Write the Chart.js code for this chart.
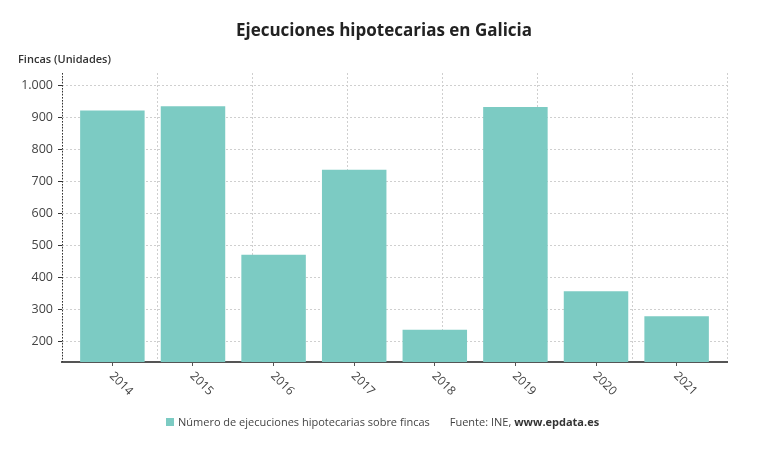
<!DOCTYPE html>
<html lang="es">
<head>
<meta charset="utf-8">
<title>Ejecuciones hipotecarias en Galicia</title>
<script src="https://cdn.jsdelivr.net/npm/chart.js@4.4.1/dist/chart.umd.min.js"></script>
<style>
  html, body { margin: 0; padding: 0; background: #fff; }
  body { width: 768px; height: 451px; position: relative; overflow: hidden; font-family: 'Open Sans', sans-serif; }
  #chart-wrap { position: absolute; left: 0; top: 0; width: 768px; height: 451px; }
  .title { position: absolute; left: 0; width: 768px; top: 18px; text-align: center; font-size: 17px; font-weight: 700; color: #222; }
  .ylab { position: absolute; left: 18px; top: 51px; font-size: 11px; font-weight: 600; color: #333; }
  .legend { position: absolute; left: 166px; top: 414px; font-size: 11px; color: #444; white-space: nowrap; }
  .legend .box { display: inline-block; width: 8px; height: 8px; background: #7ccbc3; margin-right: 4px; vertical-align: 0px; }
  .legend .src { margin-left: 20px; }
  .legend b { font-weight: 700; color: #333; }
</style>
</head>
<body>
<div id="chart-wrap"><canvas id="chart-fincas" width="768" height="451"></canvas></div>
<div class="title">Ejecuciones hipotecarias en Galicia</div>
<div class="ylab">Fincas (Unidades)</div>
<div class="legend"><span class="box"></span>Número de ejecuciones hipotecarias sobre fincas<span class="src">Fuente: INE, <b>www.epdata.es</b></span></div>
<script>
'use strict';

var years = ['2014', '2015', '2016', '2017', '2018', '2019', '2020', '2021'];
var fincas = [923, 936, 472, 738, 238, 934, 358, 280];
var yTicks = [200, 300, 400, 500, 600, 700, 800, 900, 1000];
var vGrid = [0, 1, 2, 3, 4, 5, 6, 7];

var BAR_COLOR = '#7ccbc3';
var GRID_COLOR = '#cfcfcf';

function fmtMiles(v) {
    return String(v).replace(/\B(?=(\d{3})+(?!\d))/g, '.');
}

// rotated year labels (clockwise), plus dotted y axis line
var extras = {
    id: 'extras',
    afterDraw: function(chart) {
        var ctx = chart.ctx;
        var xs = chart.scales.x;
        var area = chart.chartArea;

        ctx.save();
        ctx.strokeStyle = '#333';
        ctx.lineWidth = 1;
        ctx.setLineDash([1.5, 1.5]);
        ctx.beginPath();
        ctx.moveTo(area.left + 0.5, area.top);
        ctx.lineTo(area.left + 0.5, area.bottom);
        ctx.stroke();
        ctx.restore();

        ctx.save();
        ctx.fillStyle = '#444';
        ctx.font = '12px "Open Sans", sans-serif';
        ctx.textAlign = 'left';
        ctx.textBaseline = 'middle';
        years.forEach(function(y, i) {
            var px = xs.getPixelForValue(i);
            ctx.save();
            ctx.translate(px - 1, area.bottom + 12);
            ctx.rotate(Math.PI / 4);
            ctx.fillText(y, 0, 0);
            ctx.restore();
        });
        ctx.restore();
    }
};

var canvas = document.getElementById('chart-fincas');
new Chart(canvas, {
    type: 'bar',
    data: {
        datasets: [{
            label: 'Número de ejecuciones hipotecarias sobre fincas',
            data: fincas.map(function(v, i) { return { x: i, y: v }; }),
            backgroundColor: BAR_COLOR,
            borderWidth: 0,
            categoryPercentage: 1,
            barPercentage: 0.8,
            xAxisID: 'x',
            yAxisID: 'y'
        }]
    },
    options: {
        responsive: false,
        animation: false,
        devicePixelRatio: 1,
        layout: { padding: { top: 73, left: 0, right: 41, bottom: 49 } },
        plugins: {
            legend: { display: false },
            title: { display: false },
            tooltip: { enabled: false }
        },
        scales: {
            x: {
                type: 'linear',
                position: 'bottom',
                min: -0.625,
                max: 7.625,
                offset: false,
                ticks: { display: false },
                afterBuildTicks: function(s) {
                    s.ticks = years.map(function(y, i) { return { value: i }; });
                },
                grid: { display: true, drawOnChartArea: false, drawTicks: true, tickLength: 4, color: '#555', offset: false },
                border: { display: true, color: '#555', width: 2 },
                afterFit: function(s) { s.height = 40; }
            },
            xg: {
                type: 'linear',
                position: 'top',
                min: 0,
                max: 7,
                offset: false,
                ticks: { display: false },
                afterBuildTicks: function(s) {
                    s.ticks = vGrid.map(function(v) { return { value: v }; });
                },
                grid: { color: GRID_COLOR, drawTicks: false, lineWidth: 1, offset: false },
                border: { display: false, dash: [2, 2] },
                afterFit: function(s) { s.height = 0; }
            },
            y: {
                type: 'linear',
                min: 137,
                max: 1040,
                afterBuildTicks: function(s) {
                    s.ticks = yTicks.map(function(v) { return { value: v }; });
                },
                ticks: {
                    color: '#444',
                    padding: 5,
                    font: { family: 'Open Sans', size: 12.5 },
                    callback: function(v) { return fmtMiles(v); }
                },
                grid: { color: GRID_COLOR, tickColor: '#333', tickLength: 4, tickBorderDash: [], lineWidth: 1 },
                border: { display: false, dash: [2, 2] },
                afterFit: function(s) { s.width = 62; }
            }
        }
    },
    plugins: [extras]
});
</script>
</body>
</html>
